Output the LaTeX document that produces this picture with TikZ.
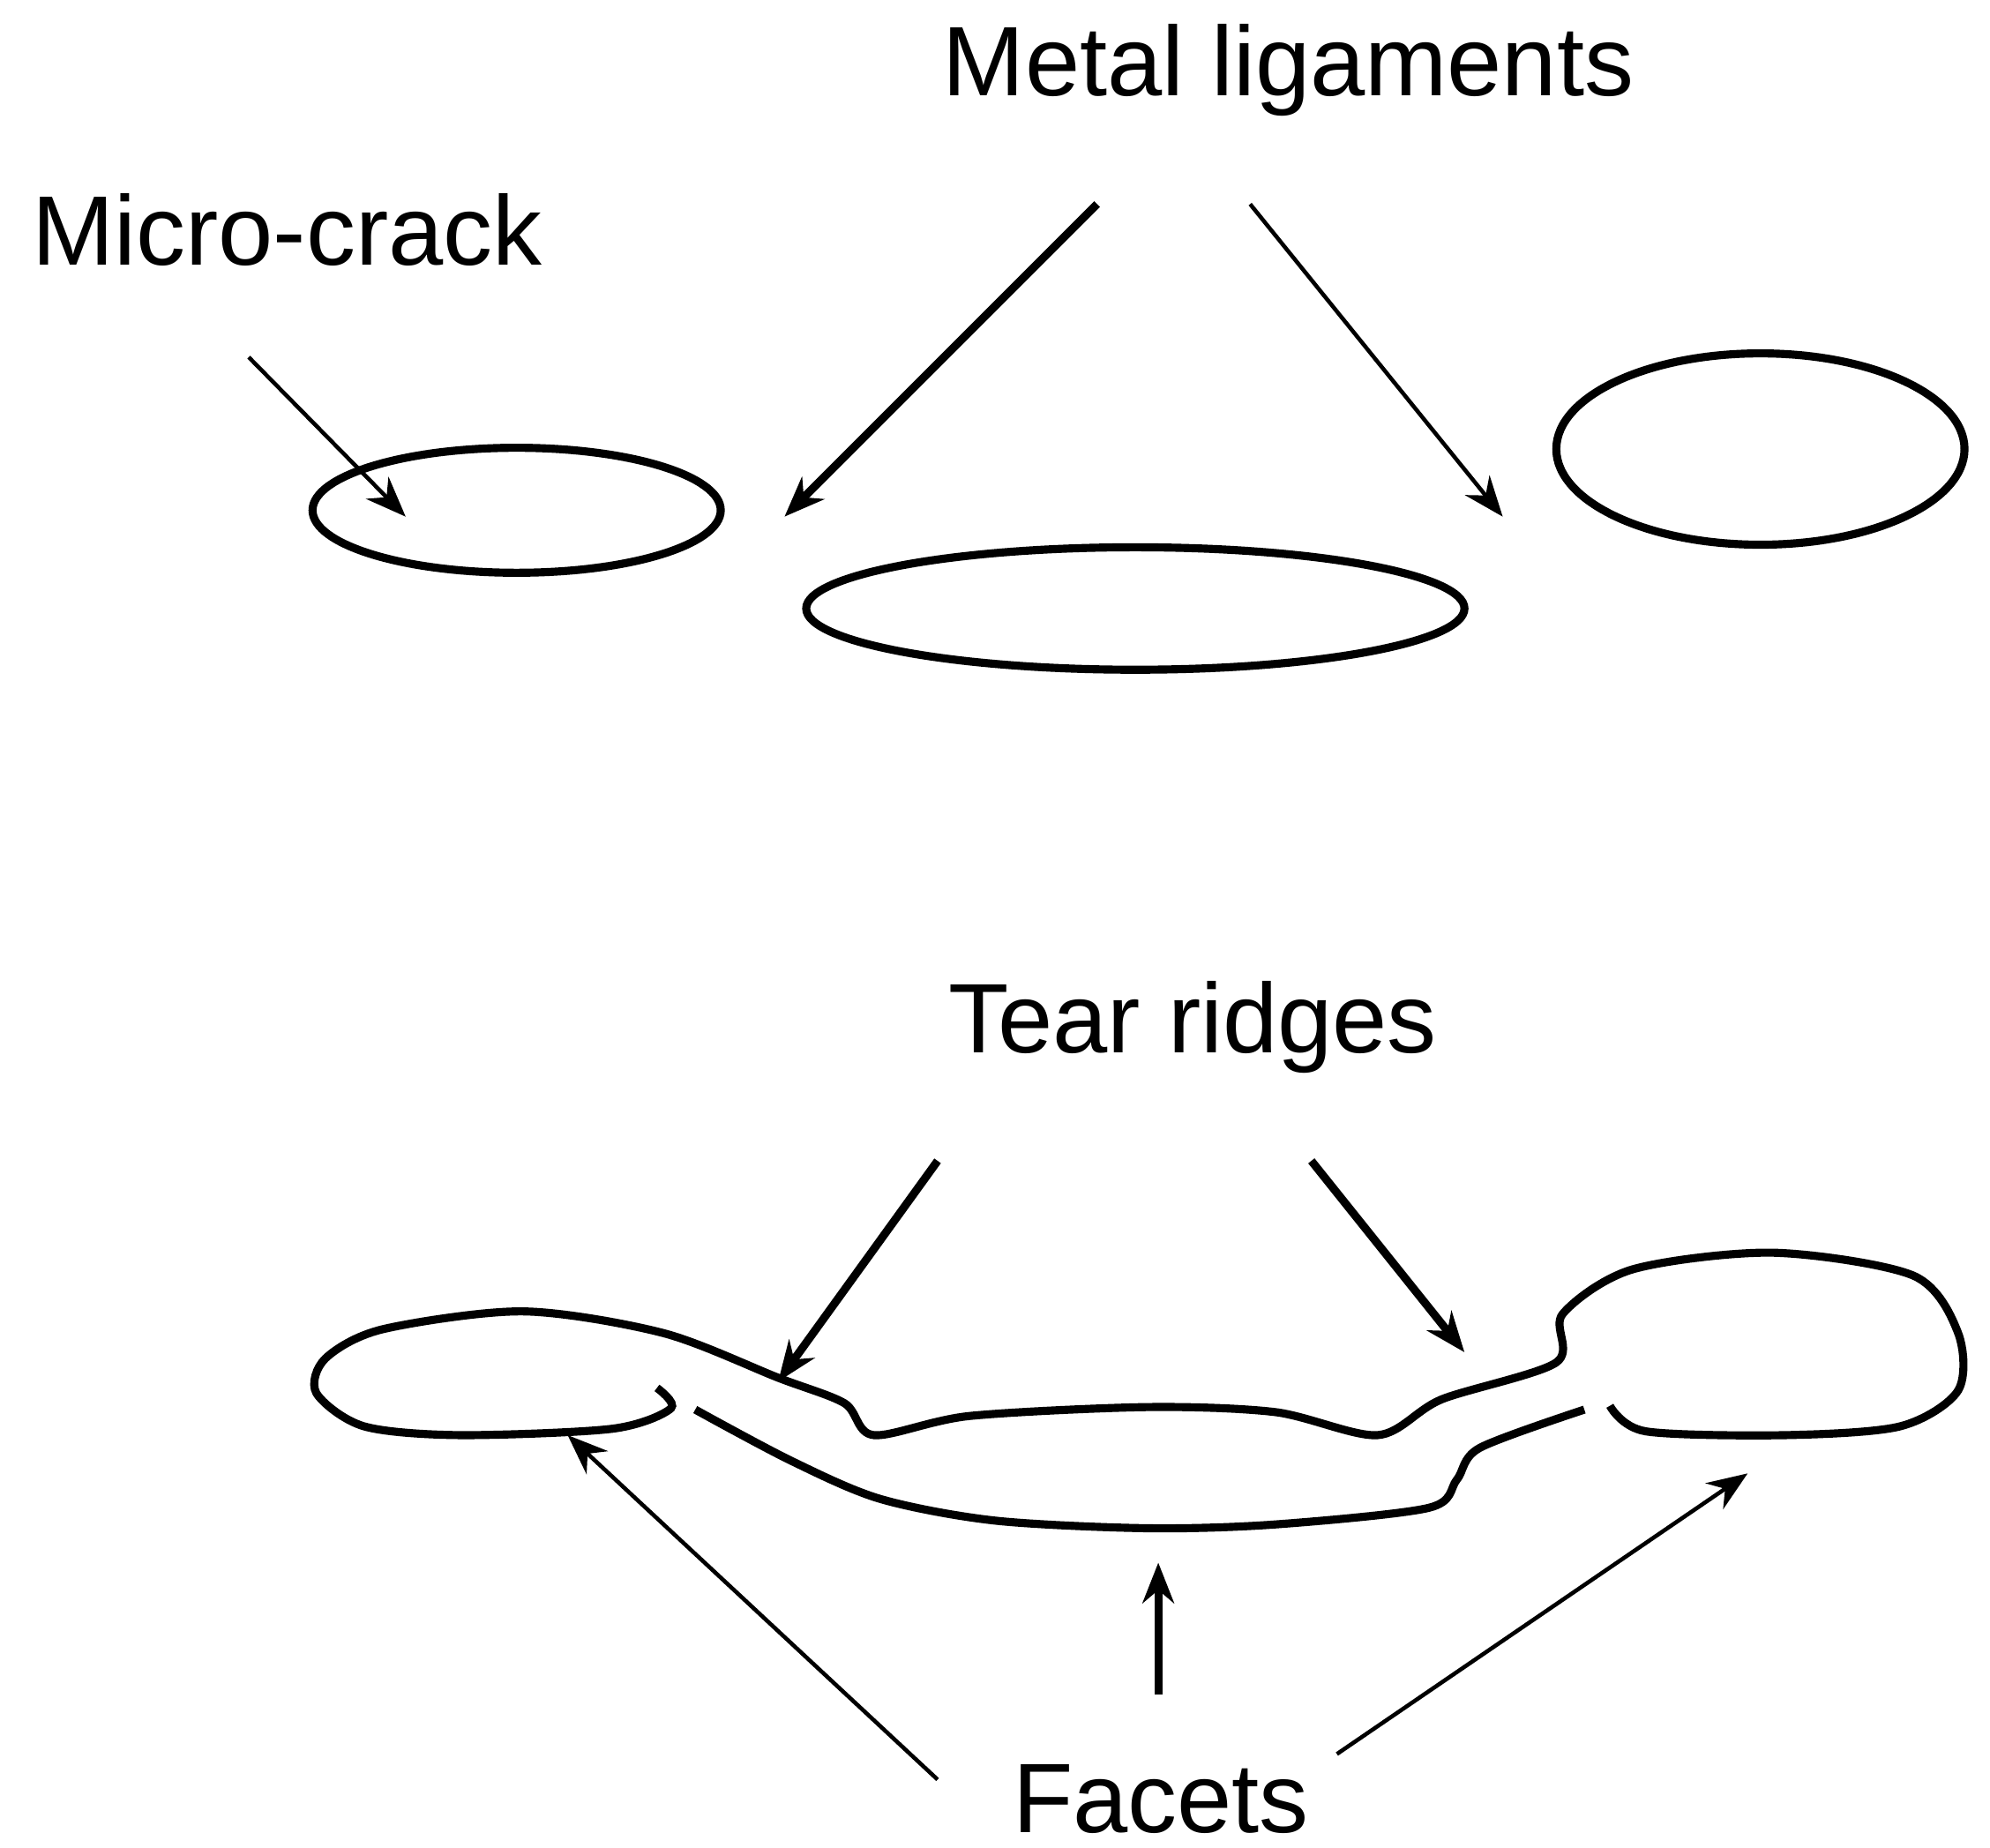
\documentclass[tikz,border=0pt]{standalone}
\usepackage{fontspec}
\setmainfont{Liberation Sans}
\usetikzlibrary{arrows.meta}
\begin{document}
\begin{tikzpicture}[x=0.01cm,y=-0.01cm,
  lbl/.style={font=\fontsize{22}{26}\selectfont,inner sep=0},
  thin arr/.style={-{Stealth[length=9pt,width=7pt]},line width=0.9pt},
  thick arr/.style={-{Stealth[length=9pt,width=7pt]},line width=1.8pt},
  outline/.style={line width=1.8pt}]
\useasboundingbox (0,0) rectangle (1560,1448);
\node[lbl] (ml) at (1010,55) {Metal ligaments};
\node[lbl] (mc) at (225,180) {Micro-crack};
\node[lbl] (tr) at (935,805) {Tear ridges};
\node[lbl] (fa) at (910,1410) {Facets};
\draw[outline] (405,400) ellipse[x radius=160,y radius=49];
\draw[outline] (890,477) ellipse[x radius=258,y radius=48];
\draw[outline] (1380,352) ellipse[x radius=160,y radius=75];
\coordinate (a1s) at (195,280); \coordinate (a1e) at (318,405);
\coordinate (a2s) at (860,160); \coordinate (a2e) at (615,405);
\coordinate (a3s) at (980,160); \coordinate (a3e) at (1178,405);
\draw[thin arr] (a1s) -- (a1e);
\draw[thick arr] (a2s) -- (a2e);
\draw[thin arr] (a3s) -- (a3e);
\coordinate (b1s) at (735,910); \coordinate (b1e) at (610,1083);
\coordinate (b2s) at (1028,910); \coordinate (b2e) at (1148,1060);
\draw[thick arr] (b1s) -- (b1e);
\draw[thick arr] (b2s) -- (b2e);
\coordinate (c1s) at (735,1395); \coordinate (c1e) at (445,1125);
\coordinate (c2s) at (908,1328); \coordinate (c2e) at (908,1225);
\coordinate (c3s) at (1048,1375); \coordinate (c3e) at (1370,1155);
\draw[thin arr] (c1s) -- (c1e);
\draw[thick arr] (c2s) -- (c2e);
\draw[thin arr] (c3s) -- (c3e);
\draw[outline] plot[smooth,tension=0.5] coordinates {
 (515,1088) (526,1104) (480,1120) (360,1125) (285,1118) (248,1092) (255,1065)
 (300,1042) (410,1028) (520,1045) (610,1080) (662,1100) (685,1125)
 (760,1110) (900,1103) (1000,1107) (1080,1125) (1130,1097) (1220,1068)
 (1225,1030) (1280,995) (1390,982) (1500,1000) (1535,1045) (1535,1090)
 (1490,1118) (1400,1125) (1290,1122) (1262,1102)};
\draw[outline] plot[smooth,tension=0.5] coordinates {
 (545,1105) (620,1145) (690,1175) (780,1192) (900,1198) (1000,1195)
 (1120,1182) (1142,1160) (1160,1135) (1242,1105)};
\end{tikzpicture}
\end{document}
